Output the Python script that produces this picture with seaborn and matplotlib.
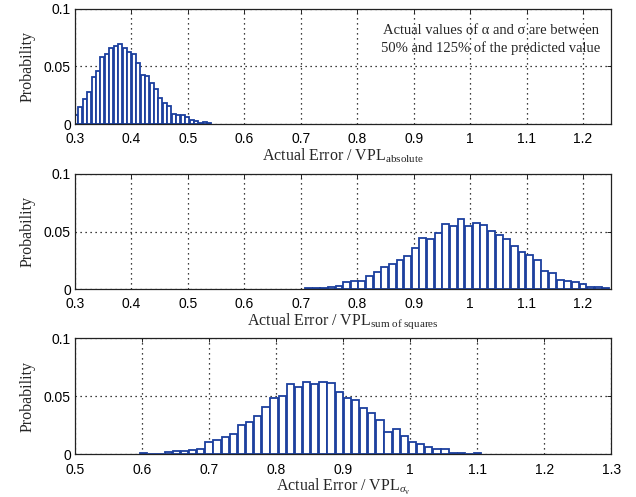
import numpy as np
import pandas as pd
import matplotlib
matplotlib.use("Agg")
import matplotlib.pyplot as plt
import seaborn as sns

# Histogram bin layout (first bin centre, bin width) and probabilities per bin
abs_start, abs_width = 0.3012, 0.0079
abs_prob = [0.0078, 0.0145, 0.0217, 0.0280, 0.0406, 0.0460, 0.0586, 0.0606,
            0.0658, 0.0678, 0.0699, 0.0658, 0.0629, 0.0606, 0.0528, 0.0426,
            0.0417, 0.0354, 0.0304, 0.0229, 0.0186, 0.0160, 0.0090, 0.0078,
            0.0078, 0.0058, 0.0037, 0.0025, 0.0009, 0.0020, 0.0012]

sos_start, sos_width = 0.7136, 0.01351
sos_prob = [0.0006, 0.0006, 0.0006, 0.0015, 0.0026, 0.0060, 0.0072, 0.0072,
            0.0110, 0.0145, 0.0194, 0.0217, 0.0250, 0.0290, 0.0360, 0.0446,
            0.0435, 0.0490, 0.0562, 0.0550, 0.0605, 0.0550, 0.0575, 0.0556,
            0.0507, 0.0467, 0.0435, 0.0370, 0.0320, 0.0296, 0.0250, 0.0154,
            0.0143, 0.0080, 0.0070, 0.0058, 0.0041, 0.0017, 0.0017, 0.0008]

sig_start, sig_width = 0.6025, 0.01215
sig_prob = [0.0009, 0.0006, 0.0006, 0.0020, 0.0032, 0.0032, 0.0040, 0.0049,
            0.0104, 0.0121, 0.0145, 0.0176, 0.0249, 0.0280, 0.0332, 0.0405,
            0.0488, 0.0500, 0.0604, 0.0584, 0.0624, 0.0607, 0.0624, 0.0616,
            0.0540, 0.0488, 0.0468, 0.0396, 0.0355, 0.0292, 0.0188, 0.0217,
            0.0156, 0.0104, 0.0092, 0.0061, 0.0043, 0.0043, 0.0012, 0.0012,
            0.0000, 0.0012]

xticks_top = [0.3, 0.4, 0.5, 0.6, 0.7, 0.8, 0.9, 1.0, 1.1, 1.2]
xticks_bottom = [0.5, 0.6, 0.7, 0.8, 0.9, 1.0, 1.1, 1.2, 1.3]
yticks = [0, 0.05, 0.1]
ytick_labels = ["0", "0.05", "0.1"]

xlabels = [
    r"Actual Error / VPL$_{\mathrm{absolute}}$",
    r"Actual Error / VPL$_{\mathrm{sum\ of\ squares}}$",
    r"Actual Error / VPL$_{\sigma_{\mathrm{v}}}$",
]
note_lines = ["Actual values of \u03b1 and \u03c3 are between",
              "50% and 125% of the predicted value"]

sns.set_style("white")
plt.rcParams["font.family"] = ["Liberation Sans", "DejaVu Sans"]
plt.rcParams["mathtext.fontset"] = "custom"
plt.rcParams["mathtext.rm"] = "Liberation Serif"
plt.rcParams["mathtext.it"] = "Liberation Serif:italic"

EDGE = "#1b3f9e"
SERIF = ["Liberation Serif", "DejaVu Serif"]


def fmt(v):
    return f"{v:g}"


fig = plt.figure(figsize=(6.36, 4.97), dpi=100)
rects = [
    [0.118, 0.7505, 0.843, 0.2314],
    [0.118, 0.4185, 0.843, 0.2314],
    [0.118, 0.0860, 0.843, 0.2330],
]
panels = [
    (abs_start, abs_width, abs_prob, (0.3, 1.25), xticks_top),
    (sos_start, sos_width, sos_prob, (0.3, 1.25), xticks_top),
    (sig_start, sig_width, sig_prob, (0.5, 1.3), xticks_bottom),
]

for i, (rect, (start, width, prob, xlim, xt)) in enumerate(zip(rects, panels)):
    ax = fig.add_axes(rect)
    centers = start + width * np.arange(len(prob))
    lo = float(centers[0] - width / 2)
    hi = float(centers[-1] + width / 2)
    df = pd.DataFrame({"ratio": centers, "prob": prob})
    sns.histplot(data=df, x="ratio", weights="prob", binwidth=width,
                 binrange=(lo, hi), stat="count",
                 shrink=0.9, color="white", edgecolor=EDGE, linewidth=1.3,
                 alpha=1, ax=ax)
    ax.set_xlim(*xlim)
    ax.set_ylim(0, 0.1)
    ax.set_xticks(xt)
    ax.set_xticklabels([fmt(v) for v in xt], fontsize=10)
    ax.set_yticks(yticks)
    ax.set_yticklabels(ytick_labels, fontsize=10)
    ax.grid(True, linestyle=(0, (1, 3)), color="black", linewidth=0.9)
    ax.set_axisbelow(True)
    ax.tick_params(direction="in", length=3, width=0.6, top=True, right=True,
                   colors="black")
    ax.tick_params(axis="x", pad=6)
    ax.tick_params(axis="y", pad=3)
    for sp in ax.spines.values():
        sp.set_color("#222222")
        sp.set_linewidth(0.9)
    ax.set_ylabel("Probability", fontsize=11.5, family=SERIF, labelpad=6)
    ax.set_xlabel(xlabels[i], fontsize=11.5, family=SERIF, labelpad=0)
    if i == 0:
        ax.text(0.776, 0.809, note_lines[0], transform=ax.transAxes,
                ha="center", va="center", fontsize=10.5, family=SERIF)
        ax.text(0.776, 0.661, note_lines[1], transform=ax.transAxes,
                ha="center", va="center", fontsize=10.5, family=SERIF)

fig.savefig("out.png", dpi=100, facecolor="white")
